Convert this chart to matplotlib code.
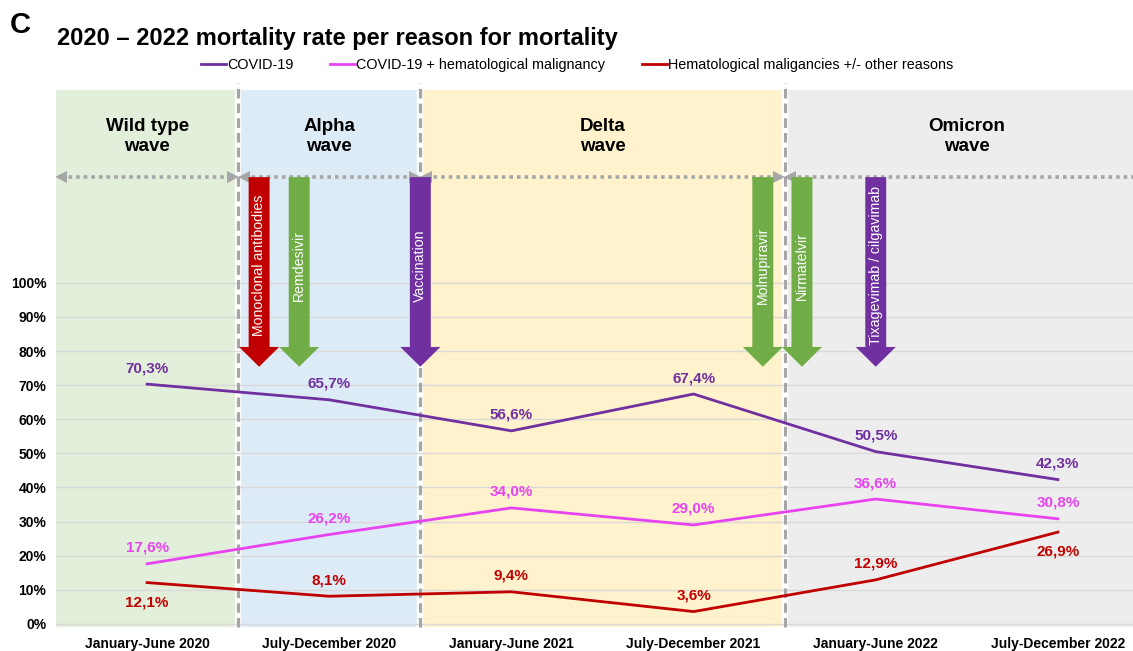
import numpy as np
import matplotlib.pyplot as plt
from matplotlib.patches import FancyArrow

plt.rcParams['font.family'] = ['Liberation Sans', 'DejaVu Sans']

periods = ['January-June 2020', 'July-December 2020', 'January-June 2021',
           'July-December 2021', 'January-June 2022', 'July-December 2022']
covid = [70.3, 65.7, 56.6, 67.4, 50.5, 42.3]
covid_hem = [17.6, 26.2, 34.0, 29.0, 36.6, 30.8]
hem_other = [12.1, 8.1, 9.4, 3.6, 12.9, 26.9]
hem_other_below = [True, False, False, False, False, True]

waves = ['Wild type\nwave', 'Alpha\nwave', 'Delta\nwave', 'Omicron\nwave']
wave_edges = [-0.5, 0.5, 1.5, 3.5, 5.5]
wave_colors = ['#E2EFDA', '#DDEBF7', '#FFF2CC', '#EDEDED']

treatments = ['Monoclonal antibodies', 'Remdesivir', 'Vaccination',
              'Molnupiravir', 'Nirmatelvir', 'Tixagevimab / cilgavimab']
treatment_x = [0.615, 0.835, 1.5, 3.38, 3.595, 4.0]
treatment_colors = ['#C00000', '#70AD47', '#7030A0', '#70AD47', '#70AD47', '#7030A0']

purple = '#7030A0'
magenta = '#E843F0'
red = '#C00000'
grey = '#A6A6A6'

fig = plt.figure(figsize=(11.33, 6.51), dpi=100)
# plot area runs past the right edge of the picture, as in the source
ax = fig.add_axes([56 / 1133, 0.037, 1093 / 1133, 0.825])
x = np.arange(len(periods))

# wave bands, titles and dotted double arrows
for i in range(len(waves)):
    left, right = wave_edges[i], wave_edges[i + 1]
    ax.axvspan(left, right, color=wave_colors[i], lw=0, zorder=0)
    ax.text((left + right) / 2, 143, waves[i], ha='center', va='center',
            fontsize=13.5, fontweight='bold', linespacing=1.2)
    ax.plot([left + 0.03, right - 0.03], [131, 131], color=grey, lw=2.6,
            linestyle=(0, (1, 1.1)), zorder=2)
    ax.plot(left + 0.03, 131, marker='<', ms=8, color=grey, mew=0, zorder=2)
    ax.plot(right - 0.03, 131, marker='>', ms=8, color=grey, mew=0, zorder=2)

for e in wave_edges[1:-1]:
    ax.plot([e, e], [-0.9, 158.5], color='white', lw=4.5, clip_on=False, zorder=1)
    ax.plot([e, e], [-0.9, 158.5], color=grey, lw=2.3, linestyle=(0, (3, 1.6)),
            clip_on=False, zorder=1.6)

# treatment arrows
for name, tx, c in zip(treatments, treatment_x, treatment_colors):
    ax.add_patch(FancyArrow(tx, 131, 0, -55.6, width=0.115, head_width=0.22,
                            head_length=5.8, length_includes_head=True,
                            color=c, lw=0, zorder=3))
    ax.text(tx, 105, name, rotation=90, color='white', ha='center', va='center',
            fontsize=10.2, zorder=4)

# lines
series = [(covid, purple, 'COVID-19', [False] * 6),
          (covid_hem, magenta, 'COVID-19 + hematological malignancy', [False] * 6),
          (hem_other, red, 'Hematological maligancies +/- other reasons', hem_other_below)]
handles = []
for vals, c, lab, below in series:
    h, = ax.plot(x, vals, color=c, lw=2, label=lab, zorder=5)
    handles.append(h)
    for xi, v, b in zip(x, vals, below):
        ax.annotate(f'{v:.1f}%'.replace('.', ','), (xi, v),
                    xytext=(0, -14 if b else 11.5), textcoords='offset points',
                    ha='center', va='center', color=c, fontsize=11,
                    fontweight='bold', zorder=6)

ax.set_xlim(-0.5, 5.5)
ax.set_ylim(-0.9, 156.6)
ax.set_yticks(range(0, 101, 10), [f'{v}%' for v in range(0, 101, 10)],
              fontsize=10, fontweight='bold')
ax.set_xticks(x, periods, fontsize=10, fontweight='bold')
ax.tick_params(length=0)
ax.tick_params(axis='x', pad=7)
ax.tick_params(axis='y', pad=7)
ax.grid(axis='y', color='#D9D9D9', lw=1)
for s in ax.spines.values():
    s.set_visible(False)

fig.legend(handles=handles, loc='center', bbox_to_anchor=(577 / 1133, 1 - 65 / 651),
           ncol=3, frameon=False, fontsize=10.4, handlelength=1.75,
           handletextpad=0.05, columnspacing=2.55)
fig.text(57 / 1133, 1 - 38 / 651, '2020 – 2022 mortality rate per reason for mortality',
         fontsize=17, fontweight='bold', va='center')
fig.text(10 / 1133, 1 - 25 / 651, 'C', fontsize=21, fontweight='bold', va='center')

fig.savefig('out.png', dpi=100)
